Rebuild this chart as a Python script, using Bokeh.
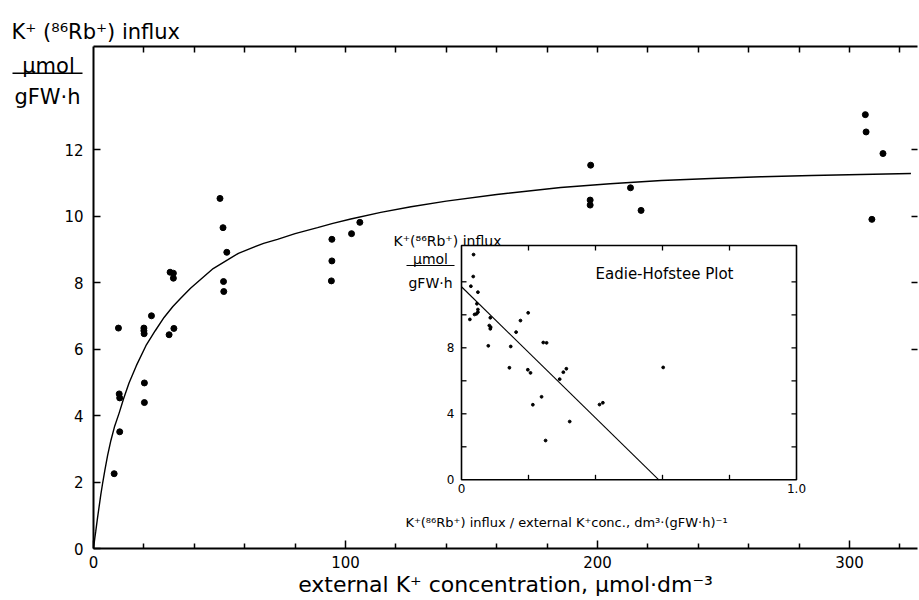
from bokeh.plotting import figure
from bokeh.models import Range1d, LinearAxis, FixedTicker
from bokeh.core.properties import value
from bokeh.embed import file_html
from bokeh.resources import INLINE

FONT = "DejaVu Sans"

# ---------------- main plot data ----------------
conc = [8.2, 9.9, 10.2, 10.4, 10.4, 20.0, 20.0, 20.1, 20.2, 20.2, 23.0, 30.0, 31.9,
        30.4, 31.7, 31.7, 50.2, 51.4, 52.9, 51.6, 51.7, 94.4, 94.6, 94.6, 102.4, 105.7,
        197.1, 197.1, 197.3, 213.1, 217.3, 306.3, 306.6, 308.9, 313.3]
influx = [2.25, 6.63, 4.65, 4.53, 3.51, 6.63, 6.55, 6.46, 4.98, 4.39, 7.00, 6.43, 6.62,
          8.31, 8.28, 8.13, 10.53, 9.65, 8.91, 8.03, 7.73, 8.05, 9.30, 8.65, 9.47, 9.81,
          10.48, 10.33, 11.53, 10.85, 10.17, 13.05, 12.53, 9.90, 11.88]

# fitted saturation curve
curve_conc = [0, 0.5, 0.9, 1.6, 2.3, 2.9, 3.7, 4.5, 5.6, 6.9, 8.4, 10.2, 12.0, 14.1, 17.0,
              20.8, 24.5, 28.0, 31.5, 34.6, 38.5, 42.6, 47.5, 53.2, 57.5, 62.4, 67.5, 73.0,
              80.0, 88.9, 95.0, 102.1, 114.0, 126.0, 140.0, 160.0, 185.4, 205.0, 225.4,
              245.0, 264.9, 285.0, 304.5, 324.4]
curve_influx = [0, 0.30, 0.52, 0.92, 1.30, 1.62, 2.00, 2.35, 2.80, 3.25, 3.68, 4.08, 4.52,
                4.98, 5.50, 6.10, 6.55, 6.95, 7.28, 7.53, 7.83, 8.10, 8.42, 8.68, 8.88, 9.03,
                9.18, 9.30, 9.47, 9.65, 9.78, 9.91, 10.11, 10.28, 10.45, 10.65, 10.86, 10.97,
                11.07, 11.13, 11.18, 11.22, 11.25, 11.28]

x_major = [0, 100, 200, 300]
x_minor = [20, 40, 60, 80, 120, 140, 160, 180, 220, 240, 260, 280, 320]
x_top = [20, 40, 60, 80, 100, 120, 140, 160, 180, 200, 220, 240, 260, 280, 300, 320]
y_major = [0, 2, 4, 6, 8, 10, 12]
y_right = [6, 8, 10, 12]

# ---------------- inset (Eadie-Hofstee) data ----------------
eh_ratio = [0.036, 0.035, 0.028, 0.049, 0.046, 0.049, 0.049, 0.045, 0.039, 0.025, 0.086,
            0.083, 0.087, 0.086, 0.080, 0.147, 0.199, 0.176, 0.163, 0.244, 0.254, 0.143,
            0.198, 0.206, 0.293, 0.304, 0.313, 0.239, 0.213, 0.412, 0.422, 0.323, 0.602, 0.251]
eh_influx = [13.65, 12.32, 11.73, 11.37, 10.67, 10.32, 10.16, 10.06, 10.02, 9.72, 9.82,
             9.35, 9.25, 9.15, 8.12, 8.08, 10.12, 9.65, 8.95, 8.32, 8.30, 6.79,
             6.67, 6.48, 6.10, 6.52, 6.73, 5.03, 4.55, 4.56, 4.67, 3.53, 6.81, 2.38]
eh_line_ratio = [0.0, 0.589]
eh_line_influx = [11.7, 0.0]

eh_x_ticks = [0.2, 0.4, 0.6, 0.8]
eh_x_labels = ["0", "1.0"]
eh_x_label_pos = [0.0, 1.0]
eh_y_ticks = [2, 4, 6, 8, 10, 12]
eh_y_labels = ["0", "4", "8"]
eh_y_label_pos = [0, 4, 8]
EH_XMAX = 1.0
EH_YMAX = 14.2

# ---------------- layout ----------------
W, H = 919, 600
BL, BR, BT, BB = 93, 2, 46, 52
FW, FH = W - BL - BR, H - BT - BB
XMAX, YMAX = 327, 15.1

p = figure(width=W, height=H, output_backend="svg", toolbar_location=None,
           x_range=Range1d(0, XMAX), y_range=Range1d(0, YMAX),
           min_border_left=BL, min_border_right=BR, min_border_top=BT, min_border_bottom=BB)
p.outline_line_color = None
p.grid.visible = False
p.background_fill_color = "white"
p.border_fill_color = "white"


def mx(px):  # canvas pixel -> main data x
    return (px - BL) * XMAX / FW


def my(py):  # canvas pixel -> main data y
    return (BT + FH - py) * YMAX / FH


def style_axis(ax, tick_in, label_size="15px", standoff=8):
    ax.axis_line_width = 2
    ax.axis_line_color = "black"
    ax.major_tick_in = tick_in
    ax.major_tick_out = 0
    ax.major_tick_line_width = 1.5
    ax.minor_tick_in = 5
    ax.minor_tick_out = 0
    ax.minor_tick_line_width = 1.5
    ax.major_label_text_font = FONT
    ax.major_label_text_font_size = label_size
    ax.major_label_text_color = "black"
    ax.major_label_standoff = standoff


xa = p.xaxis[0]
xa.ticker = FixedTicker(ticks=x_major, minor_ticks=x_minor)
style_axis(xa, 8, standoff=7)

ya = p.yaxis[0]
ya.ticker = FixedTicker(ticks=y_major, minor_ticks=[])
style_axis(ya, 7, standoff=10)

top = LinearAxis(ticker=FixedTicker(ticks=x_top, minor_ticks=[]),
                 major_label_overrides={t: "" for t in x_top})
style_axis(top, 6, label_size="1px", standoff=0)
p.add_layout(top, "above")

right = LinearAxis(ticker=FixedTicker(ticks=y_right, minor_ticks=[]),
                   major_label_overrides={t: "" for t in y_right})
style_axis(right, 6, label_size="1px", standoff=0)
right.axis_line_color = None
p.add_layout(right, "right")

# main curve and points
p.line(curve_conc, curve_influx, line_color="black", line_width=1.4)
p.scatter(conc, influx, size=6, marker="circle", fill_color="black", line_color="black")


def txt(px, py, s, size, align="left", baseline="alphabetic", **kw):
    r = p.text(x=[mx(px)], y=[my(py)], text=[s], text_font=value(FONT),
               text_font_size=size, text_align=align, text_baseline=baseline,
               text_color="black", **kw)
    r.level = "overlay"
    return r


def hbar(px0, px1, py, width):
    r = p.segment(x0=[mx(px0)], y0=[my(py)], x1=[mx(px1)], y1=[my(py)],
                  line_color="black", line_width=width)
    r.level = "overlay"
    return r


# main labels
txt(11, 31, "K⁺ (⁸⁶Rb⁺) influx", "21px")
txt(48, 65, "µmol", "21px", align="center")
hbar(12, 82, 72.7, 1.5)
txt(47, 96, "gFW·h", "21px", align="center")
txt(505, 584, "external K⁺ concentration, µmol·dm⁻³", "22px", align="center")

# ---------------- inset via extra ranges ----------------
IN_X0, IN_X1 = mx(461), mx(796)           # main-x of ratio 0 and 1.0
IN_Y0, IN_YTOP = my(479.3), my(245)       # main-y of influx 0 and EH_YMAX
sx = (IN_X1 - IN_X0) / EH_XMAX
sy = (IN_YTOP - IN_Y0) / EH_YMAX
p.extra_x_ranges = {"ix": Range1d((0 - IN_X0) / sx, (XMAX - IN_X0) / sx)}
p.extra_y_ranges = {"iy": Range1d((0 - IN_Y0) / sy, (YMAX - IN_Y0) / sy)}
ipx_x = EH_XMAX / (796 - 461)    # inset x units per pixel
ipx_y = EH_YMAX / (479.3 - 245)  # inset y units per pixel
IR = dict(x_range_name="ix", y_range_name="iy")

p.quad(left=[0], right=[EH_XMAX], bottom=[0], top=[EH_YMAX], fill_color="white",
       line_color="black", line_width=1.6, **IR)
tl = 5
nx, ny = len(eh_x_ticks), len(eh_y_ticks)
p.segment(x0=eh_x_ticks, y0=[0] * nx, x1=eh_x_ticks, y1=[tl * ipx_y] * nx,
          line_color="black", line_width=1.3, **IR)
p.segment(x0=eh_x_ticks, y0=[EH_YMAX] * nx, x1=eh_x_ticks, y1=[EH_YMAX - tl * ipx_y] * nx,
          line_color="black", line_width=1.3, **IR)
p.segment(x0=[0] * ny, y0=eh_y_ticks, x1=[tl * ipx_x] * ny, y1=eh_y_ticks,
          line_color="black", line_width=1.3, **IR)
p.segment(x0=[EH_XMAX] * ny, y0=eh_y_ticks, x1=[EH_XMAX - tl * ipx_x] * ny, y1=eh_y_ticks,
          line_color="black", line_width=1.3, **IR)
p.text(x=[-7 * ipx_x] * len(eh_y_labels), y=eh_y_label_pos, text=eh_y_labels,
       text_font=value(FONT), text_font_size="12px", text_align="right",
       text_baseline="middle", **IR)
p.text(x=eh_x_label_pos, y=[-4 * ipx_y] * len(eh_x_labels), text=eh_x_labels,
       text_font=value(FONT), text_font_size="12px", text_align="center",
       text_baseline="top", **IR)

p.line(eh_line_ratio, eh_line_influx, line_color="black", line_width=1.1, **IR)
p.scatter(eh_ratio, eh_influx, size=2.8, marker="circle", fill_color="black",
          line_color="black", **IR)

txt(393, 240, "K⁺(⁸⁶Rb⁺) influx", "14px")
txt(430, 258, "µmol", "14px", align="center")
hbar(406, 454, 265, 1.2)
txt(430, 282, "gFW·h", "14px", align="center")
txt(664, 273, "Eadie-Hofstee Plot", "15px", align="center", baseline="middle")
txt(566, 522, "K⁺(⁸⁶Rb⁺) influx / external K⁺conc., dm³·(gFW·h)⁻¹", "13px",
    align="center", baseline="middle")

open("out.html", "w").write(file_html(p, INLINE))
